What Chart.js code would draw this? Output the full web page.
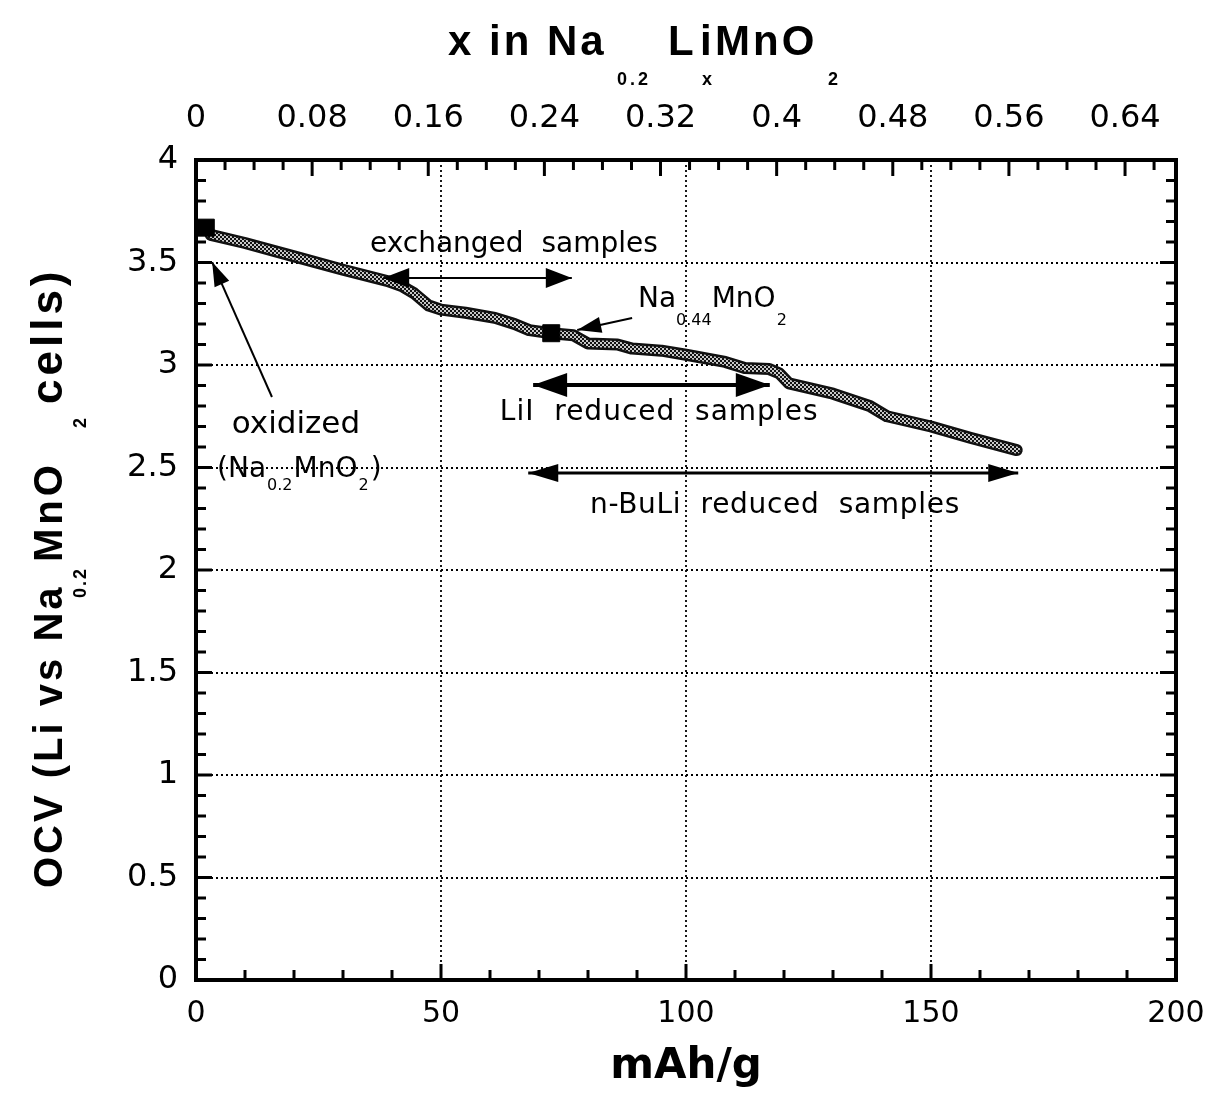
<!DOCTYPE html>
<html>
<head>
<meta charset="utf-8">
<script src="https://cdn.jsdelivr.net/npm/chart.js@4.4.1/dist/chart.umd.min.js"></script>
<style>
  html, body { margin: 0; padding: 0; background: #fff; }
  #wrap { width: 1211px; height: 1099px; position: relative; }
</style>
</head>
<body>
<div id="wrap"><canvas id="ocvChart"></canvas></div>
<script>
/* ── data ── */
const capacity = [3, 10, 20, 30, 39, 42, 44.5, 47.5, 50, 55, 61, 65, 68, 72.5, 77, 80, 86, 89, 95, 100, 108, 112, 117, 119, 121, 130, 137.5, 141, 150, 158, 167.5];
const ocv      = [3.635, 3.595, 3.53, 3.465, 3.41, 3.385, 3.35, 3.29, 3.27, 3.255, 3.23, 3.2, 3.17, 3.155, 3.145, 3.105, 3.1, 3.08, 3.07, 3.05, 3.015, 2.985, 2.98, 2.96, 2.91, 2.86, 2.8, 2.75, 2.7, 2.645, 2.585];

const markerCap = [2, 72.5];
const markerOcv = [3.67, 3.155];

const bottomTicks = [0, 50, 100, 150, 200];
const topTicks    = [0, 0.08, 0.16, 0.24, 0.32, 0.4, 0.48, 0.56, 0.64];
const leftTicks   = [0, 0.5, 1, 1.5, 2, 2.5, 3, 3.5, 4];

const CAP_TO_X = 0.08 / 23.7;   // mAh/g -> x in Na0.2LixMnO2

/* ── helpers ── */
function checkerPattern() {
  const c = document.createElement('canvas');
  c.width = 4; c.height = 4;
  const g = c.getContext('2d');
  g.fillStyle = '#c8c8c8'; g.fillRect(0, 0, 4, 4);
  g.fillStyle = '#111';
  g.fillRect(0, 0, 2, 2); g.fillRect(2, 2, 2, 2);
  return g.createPattern(c, 'repeat');
}

// draws text pieces one after another; "at" puts a piece at a fixed offset
function drawParts(ctx, x, y, parts, spacing) {
  let cur = x;
  parts.forEach(p => {
    if (p.at !== undefined) cur = x + p.at;
    cur += p.dx || 0;
    ctx.font = p.font;
    ctx.letterSpacing = (p.ls !== undefined ? p.ls : (spacing || 0)) + 'px';
    ctx.fillText(p.t, cur, y + (p.dy || 0));
    cur += ctx.measureText(p.t).width;
  });
  ctx.letterSpacing = '0px';
}

function arrowHead(ctx, x1, y1, x2, y2, len, half) {
  const a = Math.atan2(y2 - y1, x2 - x1);
  ctx.beginPath();
  ctx.moveTo(x2, y2);
  ctx.lineTo(x2 - len * Math.cos(a) + half * Math.sin(a), y2 - len * Math.sin(a) - half * Math.cos(a));
  ctx.lineTo(x2 - len * Math.cos(a) - half * Math.sin(a), y2 - len * Math.sin(a) + half * Math.cos(a));
  ctx.closePath();
  ctx.fill();
}

function arrow(ctx, x1, y1, x2, y2, lw, len, half, both) {
  ctx.lineWidth = lw;
  ctx.beginPath(); ctx.moveTo(x1, y1); ctx.lineTo(x2, y2); ctx.stroke();
  arrowHead(ctx, x1, y1, x2, y2, len, half);
  if (both) arrowHead(ctx, x2, y2, x1, y1, len, half);
}

/* ── plugin: grid, frame, ticks, titles, notes ── */
const framePlugin = {
  id: 'frame',
  beforeDatasetsDraw(chart) {
    const { ctx, chartArea: a, scales: { x, y } } = chart;
    ctx.save();
    ctx.strokeStyle = '#000';
    ctx.lineWidth = 1.8;
    ctx.setLineDash([2, 3]);
    bottomTicks.slice(1, -1).forEach(v => {
      const px = Math.round(x.getPixelForValue(v));
      ctx.beginPath(); ctx.moveTo(px, a.top); ctx.lineTo(px, a.bottom); ctx.stroke();
    });
    leftTicks.slice(1, -1).forEach(v => {
      const py = Math.round(y.getPixelForValue(v));
      ctx.beginPath(); ctx.moveTo(a.left, py); ctx.lineTo(a.right, py); ctx.stroke();
    });
    ctx.restore();
  },
  afterDraw(chart) {
    const { ctx, chartArea: a, scales: { x, x2, y } } = chart;
    ctx.save();
    ctx.strokeStyle = '#000';
    ctx.fillStyle = '#000';
    ctx.lineWidth = 3;

    // bottom ticks: minor 10, major 50
    for (let v = 0; v <= 200; v += 10) {
      const px = x.getPixelForValue(v);
      const len = v % 50 === 0 ? 16 : 10;
      ctx.beginPath(); ctx.moveTo(px, a.bottom); ctx.lineTo(px, a.bottom - len); ctx.stroke();
    }
    // top ticks: minor 0.02, major 0.08
    for (let i = 0; i * 0.02 <= x2.max + 1e-9; i++) {
      const px = x2.getPixelForValue(i * 0.02);
      const len = i % 4 === 0 ? 16 : 10;
      ctx.beginPath(); ctx.moveTo(px, a.top); ctx.lineTo(px, a.top + len); ctx.stroke();
    }
    // left/right ticks: minor 0.1, major 0.5
    for (let i = 0; i <= 40; i++) {
      const py = y.getPixelForValue(i / 10);
      const len = i % 5 === 0 ? 16 : 10;
      ctx.beginPath(); ctx.moveTo(a.left, py); ctx.lineTo(a.left + len, py); ctx.stroke();
      ctx.beginPath(); ctx.moveTo(a.right, py); ctx.lineTo(a.right - len, py); ctx.stroke();
    }
    // frame
    ctx.lineWidth = 4;
    ctx.strokeRect(a.left, a.top, a.right - a.left, a.bottom - a.top);

    // top title
    ctx.textAlign = 'left';
    ctx.textBaseline = 'alphabetic';
    const tb = 'bold 42px "Liberation Sans"', ts = 'bold 18px "Liberation Sans"';
    drawParts(ctx, 448, 55, [
      { t: 'x in Na', font: tb, at: 0 },
      { t: '0.2', font: ts, dy: 30, at: 169 },
      { t: 'L', font: tb, at: 220 },
      { t: 'i', font: tb, at: 252 },
      { t: 'x', font: ts, dy: 30, at: 254 },
      { t: 'MnO', font: tb, at: 267 },
      { t: '2', font: ts, dy: 30, at: 380 }
    ], 3);

    // bottom title
    ctx.font = 'bold 42px "DejaVu Sans"';
    ctx.textAlign = 'center';
    ctx.fillText('mAh/g', (a.left + a.right) / 2, 1078);

    // y title (rotated, reads bottom to top)
    ctx.textAlign = 'left';
    ctx.save();
    ctx.translate(62, 888);
    ctx.rotate(-Math.PI / 2);
    const yb = 'bold 40px "Liberation Sans"', ys = 'bold 18px "Liberation Sans"';
    drawParts(ctx, 0, 0, [
      { t: 'OCV (Li vs Na', font: yb, at: 0, ls: 3 },
      { t: '0.2', font: ys, dy: 24, at: 290, ls: 2 },
      { t: 'MnO', font: yb, at: 326, ls: 4 },
      { t: '2', font: ys, dy: 24, at: 460 },
      { t: 'cells)', font: 'bold 44px "Liberation Sans"', at: 484, ls: 4 }
    ]);
    ctx.restore();

    // notes
    const P = (cx, cy) => [x.getPixelForValue(cx), y.getPixelForValue(cy)];
    const nf = '28px "DejaVu Sans"', sf = '16px "DejaVu Sans"';
    let p;
    p = P(35.5, 3.551); drawParts(ctx, p[0], p[1], [{ t: 'exchanged  samples', font: nf }]);
    p = P(90.2, 3.283); drawParts(ctx, p[0], p[1], [
      { t: 'Na', font: nf }, { t: '0.44', font: sf, dy: 18, dx: 0 },
      { t: 'MnO', font: nf, dx: 0 }, { t: '2', font: sf, dy: 18, dx: 1 }
    ]);
    p = P(7.3, 2.668); drawParts(ctx, p[0], p[1], [{ t: 'oxidized', font: '31px "DejaVu Sans"' }]);
    p = P(4.3, 2.454); drawParts(ctx, p[0], p[1], [
      { t: '(Na', font: nf }, { t: '0.2', font: sf, dy: 13, dx: 1 },
      { t: 'MnO', font: nf, dx: 1 }, { t: '2', font: sf, dy: 13, dx: 1 }, { t: ')', font: nf, dx: 2 }
    ]);
    p = P(62.0, 2.732); drawParts(ctx, p[0], p[1], [{ t: 'LiI  reduced  samples', font: nf }], 1);
    p = P(80.4, 2.278); drawParts(ctx, p[0], p[1], [{ t: 'n-BuLi  reduced  samples', font: nf }], 0.7);

    let a1, a2;
    a1 = P(38.2, 3.424); a2 = P(76.7, 3.424);
    arrow(ctx, a1[0], a1[1], a2[0], a2[1], 2, 26, 10, true);
    a1 = P(89.0, 3.229); a2 = P(77.8, 3.171);
    arrow(ctx, a1[0], a1[1], a2[0], a2[1], 2, 24, 8, false);
    a1 = P(68.8, 2.902); a2 = P(117.1, 2.902);
    arrow(ctx, a1[0], a1[1], a2[0], a2[1], 4, 34, 12, true);
    a1 = P(67.8, 2.473); a2 = P(167.8, 2.473);
    arrow(ctx, a1[0], a1[1], a2[0], a2[1], 3, 30, 9, true);
    a1 = P(15.5, 2.844); a2 = P(3.3, 3.502);
    arrow(ctx, a1[0], a1[1], a2[0], a2[1], 2, 24, 8, false);

    ctx.restore();
  }
};

/* ── chart ── */
const curve = capacity.map((c, i) => ({ x: c, y: ocv[i] }));
const markers = markerCap.map((c, i) => ({ x: c, y: markerOcv[i] }));
const tickFont = size => ({ family: 'DejaVu Sans', size: size });
const noPad = s => { s.paddingLeft = 0; s.paddingRight = 0; };

new Chart(document.getElementById('ocvChart'), {
  type: 'line',
  data: {
    datasets: [
      { data: markers, showLine: false, pointStyle: 'rect', pointRadius: 12, backgroundColor: '#000', borderColor: '#000', order: 0 },
      { data: curve, borderColor: checkerPattern(), borderWidth: 7, pointRadius: 0, tension: 0, borderJoinStyle: 'round', borderCapStyle: 'round', order: 1 },
      { data: curve, borderColor: '#111', borderWidth: 12, pointRadius: 0, tension: 0, borderJoinStyle: 'round', borderCapStyle: 'round', order: 2 }
    ]
  },
  options: {
    responsive: true,
    maintainAspectRatio: false,
    animation: false,
    layout: { padding: { right: 35, left: 0, top: 0, bottom: 0 } },
    plugins: { legend: { display: false }, tooltip: { enabled: false } },
    scales: {
      x: {
        type: 'linear', position: 'bottom', min: 0, max: 200,
        grid: { display: false, drawTicks: false }, border: { display: false },
        afterBuildTicks: s => { s.ticks = bottomTicks.map(v => ({ value: v })); },
        afterFit: s => { s.height = 119; noPad(s); },
        ticks: { color: '#000', font: tickFont(30), padding: 16, maxRotation: 0, callback: v => String(v) }
      },
      x2: {
        type: 'linear', position: 'top', min: 0, max: 200 * CAP_TO_X,
        grid: { display: false, drawTicks: false }, border: { display: false },
        afterBuildTicks: s => { s.ticks = topTicks.map(v => ({ value: v })); },
        afterFit: s => { s.height = 160; noPad(s); },
        ticks: { color: '#000', font: tickFont(32), padding: 22, maxRotation: 0, callback: v => String(v) }
      },
      y: {
        type: 'linear', position: 'left', min: 0, max: 4,
        grid: { display: false, drawTicks: false }, border: { display: false },
        afterBuildTicks: s => { s.ticks = leftTicks.map(v => ({ value: v })); },
        afterFit: s => { s.width = 196; },
        ticks: { color: '#000', font: tickFont(32), padding: 18, callback: v => String(v) }
      }
    }
  },
  plugins: [framePlugin]
});
</script>
</body>
</html>
